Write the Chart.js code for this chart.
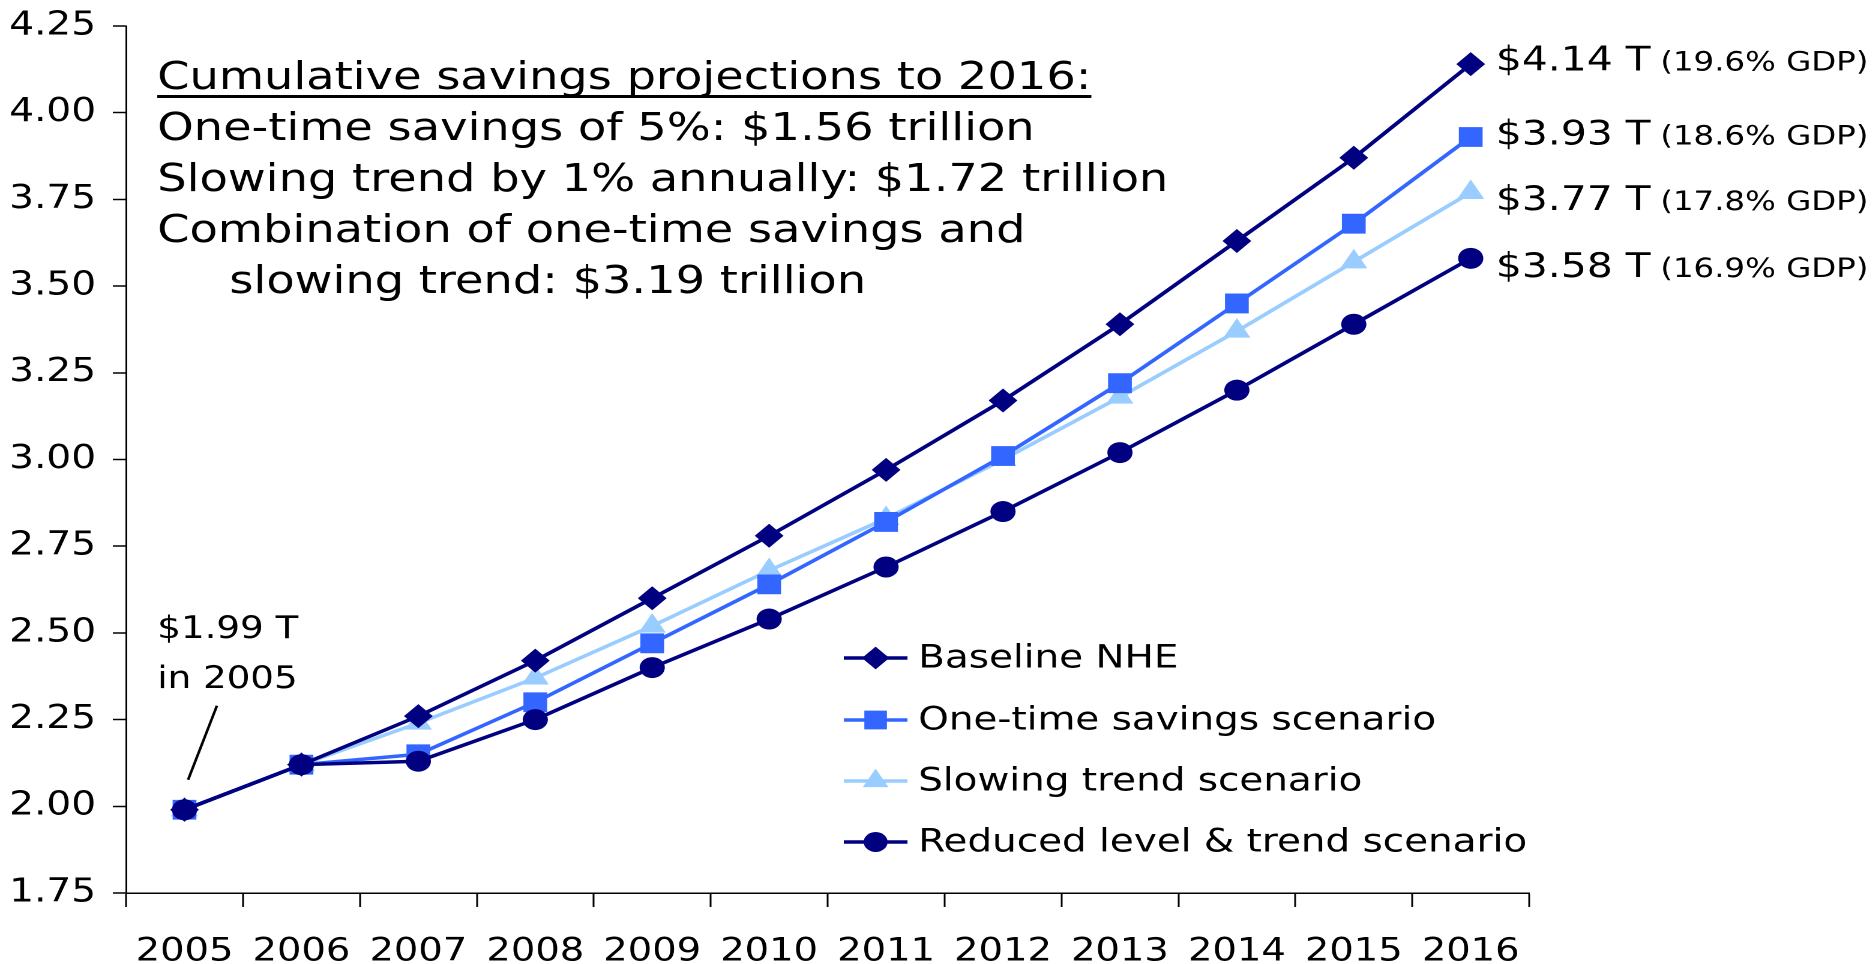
<!DOCTYPE html>
<html>
<head>
<meta charset="utf-8">
<script src="https://cdn.jsdelivr.net/npm/chart.js@4/dist/chart.umd.min.js"></script>
<style>
  html, body { margin: 0; padding: 0; background: #fff; overflow: hidden; }
  #wrap { position: absolute; left: 0; top: 0; width: 1563px; height: 964px; transform: scaleX(1.2003); transform-origin: 0 0; }
</style>
</head>
<body>
<div id="wrap"><canvas id="c"></canvas></div>
<script>
// ---- data ----
const years = ['2005','2006','2007','2008','2009','2010','2011','2012','2013','2014','2015','2016'];
const baselineNHE = [1.99, 2.12, 2.26, 2.42, 2.60, 2.78, 2.97, 3.17, 3.39, 3.63, 3.87, 4.14];
const oneTimeSavings = [1.99, 2.12, 2.15, 2.30, 2.47, 2.64, 2.82, 3.01, 3.22, 3.45, 3.68, 3.93];
const slowingTrend = [1.99, 2.12, 2.24, 2.37, 2.52, 2.68, 2.83, 3.00, 3.18, 3.37, 3.57, 3.77];
const reducedLevelTrend = [1.99, 2.12, 2.13, 2.25, 2.40, 2.54, 2.69, 2.85, 3.02, 3.20, 3.39, 3.58];
const seriesNames = ['Baseline NHE', 'One-time savings scenario', 'Slowing trend scenario', 'Reduced level & trend scenario'];
const endLabelAmounts = ['$4.14 T', '$3.93 T', '$3.77 T', '$3.58 T'];
const endLabelGdp = ['(19.6% GDP)', '(18.6% GDP)', '(17.8% GDP)', '(16.9% GDP)'];
const noteLines = ['Cumulative savings projections to 2016:', 'One-time savings of 5%: $1.56 trillion', 'Slowing trend by 1% annually: $1.72 trillion', 'Combination of one-time savings and', 'slowing trend: $3.19 trillion'];
const startNote = ['$1.99 T', 'in 2005'];
const yMin = 1.75, yMax = 4.25, yStep = 0.25;

// ---- styles ----
const FONT = 'DejaVu Sans';
const colors = ['#000080', '#3366FF', '#99CCFF', '#000080'];
const pStyles = ['rectRot', 'rect', 'triangle', 'circle'];
const pRadius = [12, 14, 13, 10.5];
const drawOrder = [1, 2, 3, 0];
const endLabelDy = [-6, -5, 5, 6];

Chart.defaults.font.family = FONT;
Chart.defaults.color = '#000';

const seriesData = [baselineNHE, oneTimeSavings, slowingTrend, reducedLevelTrend];

const datasets = seriesData.map((d, i) => ({
  label: seriesNames[i],
  data: d,
  borderColor: colors[i],
  backgroundColor: colors[i],
  pointBackgroundColor: colors[i],
  pointBorderColor: colors[i],
  pointBorderWidth: 0,
  pointStyle: pStyles[i],
  pointRadius: pRadius[i],
  pointHoverRadius: pRadius[i],
  borderWidth: 3.5,
  tension: 0,
  order: drawOrder[i]
}));

const overlay = {
  id: 'overlay',
  afterDatasetsDraw(chart) {
    const ctx = chart.ctx;
    const xs = chart.scales.x, ys = chart.scales.y;
    ctx.save();
    ctx.fillStyle = '#000';
    ctx.textAlign = 'left';
    ctx.textBaseline = 'alphabetic';

    // Notes block
    ctx.font = '38.6px "' + FONT + '"';
    const baseY = [89, 140, 191, 242, 293];
    const noteX = [131, 131, 131, 131, 191];
    noteLines.forEach((t, i) => ctx.fillText(t, noteX[i], baseY[i]));
    const w0 = ctx.measureText(noteLines[0]).width;
    ctx.fillRect(noteX[0], 95, w0, 3);

    // Start annotation
    ctx.font = '31px "' + FONT + '"';
    ctx.fillText(startNote[0], 131, 638);
    ctx.fillText(startNote[1], 131, 688);
    const px0 = xs.getPixelForValue(0), py0 = ys.getPixelForValue(seriesData[0][0]);
    ctx.strokeStyle = '#000';
    ctx.lineWidth = 2.2;
    ctx.beginPath();
    ctx.moveTo(px0 + 3, py0 - 30);
    ctx.lineTo(px0 + 27, py0 - 104);
    ctx.stroke();

    // End labels
    const last = years.length - 1;
    seriesData.forEach((d, i) => {
      const x = xs.getPixelForValue(last) + 21;
      const y = ys.getPixelForValue(d[last]) + endLabelDy[i] + 12.5;
      ctx.font = '34px "' + FONT + '"';
      ctx.fillText(endLabelAmounts[i], x, y);
      const w = ctx.measureText(endLabelAmounts[i]).width;
      ctx.font = '27px "' + FONT + '"';
      ctx.fillText(endLabelGdp[i], x + w + 8, y);
    });

    // Legend
    const legY = [658, 720, 781, 842];
    ctx.textBaseline = 'middle';
    seriesNames.forEach((n, i) => {
      const y = legY[i];
      ctx.strokeStyle = colors[i];
      ctx.lineWidth = 3.5;
      ctx.beginPath();
      ctx.moveTo(703, y);
      ctx.lineTo(756, y);
      ctx.stroke();
      ctx.fillStyle = colors[i];
      Chart.helpers.drawPoint(ctx, { pointStyle: pStyles[i], radius: pRadius[i] * 0.95, rotation: 0, borderWidth: 0 }, 729.5, y);
      ctx.fillStyle = '#000';
      ctx.font = '32.4px "' + FONT + '"';
      ctx.fillText(n, 765, y + 1);
    });
    ctx.restore();
  }
};

new Chart(document.getElementById('c'), {
  type: 'line',
  data: { labels: years, datasets },
  options: {
    responsive: true,
    maintainAspectRatio: false,
    animation: false,
    devicePixelRatio: 2,
    layout: { padding: { top: 26, right: 289, left: 0, bottom: 0 } },
    plugins: { legend: { display: false }, tooltip: { enabled: false } },
    scales: {
      x: {
        offset: true,
        grid: { offset: true, drawOnChartArea: false, drawTicks: true, tickLength: 14, tickColor: '#000', tickWidth: 1.5 },
        border: { color: '#000', width: 1.5 },
        ticks: { font: { size: 32 }, color: '#000', padding: 26, maxRotation: 0, autoSkip: false },
        afterFit(s) { s.height = 71; s.paddingLeft = 0; s.paddingRight = 0; }
      },
      y: {
        min: yMin, max: yMax,
        grid: { drawOnChartArea: false, drawTicks: true, tickLength: 11, tickColor: '#000', tickWidth: 1.5 },
        border: { color: '#000', width: 1.5 },
        ticks: { stepSize: yStep, font: { size: 32.5 }, color: '#000', padding: 14, callback: v => Number(v).toFixed(2) },
        afterFit(s) { s.width = 105; s.paddingTop = 0; s.paddingBottom = 0; }
      }
    }
  },
  plugins: [overlay]
});
</script>
</body>
</html>
